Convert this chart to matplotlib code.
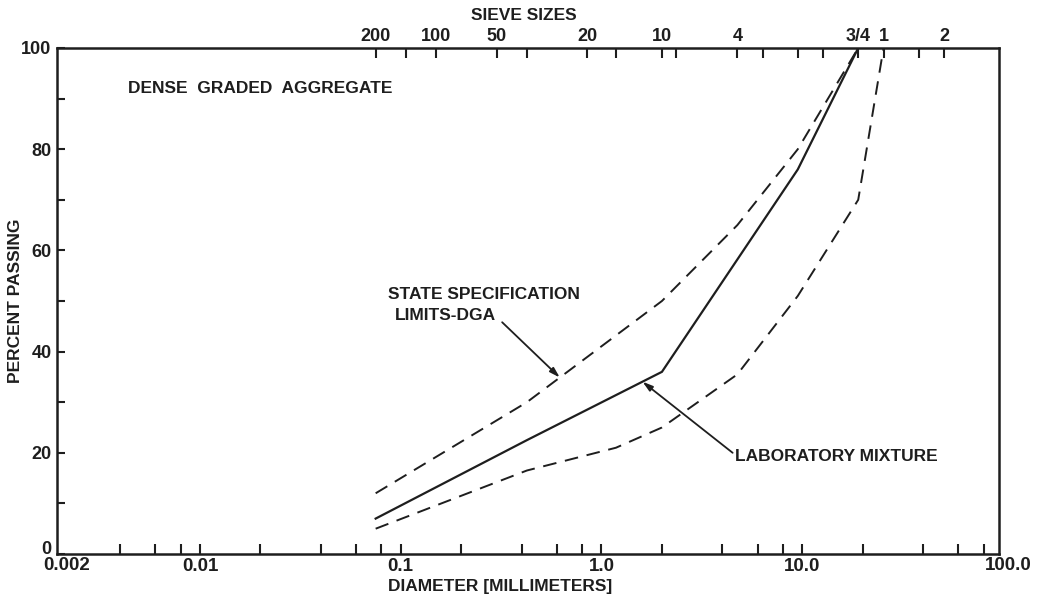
import numpy as np
import matplotlib
matplotlib.use("Agg")
import matplotlib.pyplot as plt
import matplotlib.transforms as mtransforms
from matplotlib.ticker import FixedLocator, NullFormatter, FixedFormatter

# Gradation data: sieve opening (mm) vs percent passing
upper_size = [0.075, 0.425, 2.0, 4.75, 9.5, 19.0]
upper_pass = [12, 30, 50, 65, 80, 100]

lower_size = [0.075, 0.425, 1.18, 2.0, 4.75, 9.5, 19.0, 25.4]
lower_pass = [5, 16.5, 21, 25, 35.5, 51, 70, 100]

lab_size = [0.075, 0.425, 2.0, 9.5, 19.0]
lab_pass = [7, 22.5, 36, 76, 100]

# Axis ticks
x_major = [0.01, 0.1, 1.0, 10.0]
x_major_labels = ["0.01", "0.1", "1.0", "10.0"]
x_end_labels = ["0.002", "100.0"]
x_minor = [0.004, 0.006, 0.008, 0.02, 0.04, 0.06, 0.08, 0.2, 0.4, 0.6, 0.8,
           2, 4, 6, 8, 20, 40, 60, 80]
y_major = [0, 20, 40, 60, 80, 100]
y_minor = [10, 30, 50, 70, 90]

# Sieve scale along the top edge
sieve_size = [0.075, 0.15, 0.3, 0.85, 2.0, 4.75, 19.0, 25.4, 50.8]
sieve_labels = ["200", "100", "50", "20", "10", "4", "3/4", "1", "2"]
sieve_unlabeled = [0.106, 0.425, 1.18, 2.36, 6.35, 9.5, 12.7, 38.1]

INK = "#1e1e1e"
FONT = "Liberation Sans"
plt.rcParams["font.family"] = [FONT, "DejaVu Sans"]
plt.rcParams["font.weight"] = "bold"

fig = plt.figure(figsize=(10.39, 5.95), dpi=100)
ax = fig.add_axes([57 / 1039, 41 / 595, 942 / 1039, 506 / 595])

lw = 1.4
ax.plot(upper_size, upper_pass, color=INK, lw=lw, dashes=(7, 4.5))
ax.plot(lower_size, lower_pass, color=INK, lw=lw, dashes=(7, 4.5))
ax.plot(lab_size, lab_pass, color=INK, lw=lw + 0.2, solid_joinstyle="miter")

ax.set_xscale("log")
ax.set_xlim(0.00194, 95.5)
ax.set_ylim(0, 100)

for s in ax.spines.values():
    s.set_linewidth(1.8)
    s.set_color(INK)

ax.xaxis.set_major_locator(FixedLocator(x_major))
ax.xaxis.set_major_formatter(FixedFormatter(x_major_labels))
ax.xaxis.set_minor_locator(FixedLocator(x_minor))
ax.xaxis.set_minor_formatter(NullFormatter())
ax.yaxis.set_major_locator(FixedLocator(y_major))
ax.yaxis.set_minor_locator(FixedLocator(y_minor))

ax.tick_params(axis="x", which="both", direction="in", length=7, width=1.5,
               color=INK, pad=3, labelsize=13.5, labelcolor=INK, top=False)
ax.tick_params(axis="y", which="both", direction="in", length=6, width=1.5,
               color=INK, pad=4, labelsize=13, labelcolor=INK, right=False)
for lab in ax.get_xticklabels() + ax.get_yticklabels():
    lab.set_fontweight("bold")

# lift the "0" label so it clears the first diameter label
zero_lab = ax.get_yticklabels()[0]
zero_lab.set_transform(zero_lab.get_transform() +
                       mtransforms.ScaledTranslation(0, 0.07, fig.dpi_scale_trans))

# end labels of the diameter scale, set just outside the two corners
for frac, dx, text in [(0, 10, x_end_labels[0]), (1, 9, x_end_labels[1])]:
    ax.annotate(text, xy=(frac, 0), xycoords="axes fraction",
                xytext=(dx, -11), textcoords="offset pixels", ha="center",
                va="center", fontsize=13.5, fontweight="bold", color=INK)

# Sieve numbers on the top spine
top = ax.secondary_xaxis("top")
top.set_xscale("log")
top.xaxis.set_major_locator(FixedLocator(sieve_size))
top.xaxis.set_major_formatter(FixedFormatter(sieve_labels))
top.xaxis.set_minor_locator(FixedLocator(sieve_unlabeled))
top.xaxis.set_minor_formatter(NullFormatter())
top.tick_params(which="both", direction="in", length=7, width=1.5, color=INK,
                pad=2, labelsize=13, labelcolor=INK)
top.spines["top"].set_visible(False)
for lab in top.get_xticklabels():
    lab.set_fontweight("bold")

fig.text(524 / 1039, 1 - 16 / 595, "SIEVE SIZES", ha="center", va="center",
         fontsize=12.5, fontweight="bold", color=INK)
fig.text(500 / 1039, 1 - 586 / 595, "DIAMETER [MILLIMETERS]", ha="center",
         va="center", fontsize=12.5, fontweight="bold", color=INK)
fig.text(16 / 1039, 1 - 301 / 595, "PERCENT PASSING", ha="center", va="center",
         rotation=90, fontsize=12.5, fontweight="bold", color=INK)

ax.text(0.0044, 92, "DENSE  GRADED  AGGREGATE", ha="left", va="center",
        fontsize=12.5, fontweight="bold", color=INK)


def on_curve(sizes, values, d):
    return float(np.interp(np.log10(d), np.log10(sizes), values))


arrow = dict(arrowstyle="-|>,head_length=0.6,head_width=0.18", color=INK,
             lw=1.3, shrinkA=0, shrinkB=0)

spec_x = 0.62
ax.annotate("", xy=(spec_x, on_curve(upper_size, upper_pass, spec_x)),
            xytext=(0.32, 45.8), arrowprops=arrow)
ax.text(0.086, 51.2, "STATE SPECIFICATION", ha="left", va="center",
        fontsize=12.5, fontweight="bold", color=INK)
ax.text(0.093, 47.2, "LIMITS-DGA", ha="left", va="center",
        fontsize=12.5, fontweight="bold", color=INK)

lab_x = 1.6
ax.annotate("", xy=(lab_x, on_curve(lab_size, lab_pass, lab_x)),
            xytext=(4.5, 20.0), arrowprops=arrow)
ax.text(4.65, 19.2, "LABORATORY MIXTURE", ha="left", va="center",
        fontsize=12.5, fontweight="bold", color=INK)

fig.savefig("out.png", dpi=100)
